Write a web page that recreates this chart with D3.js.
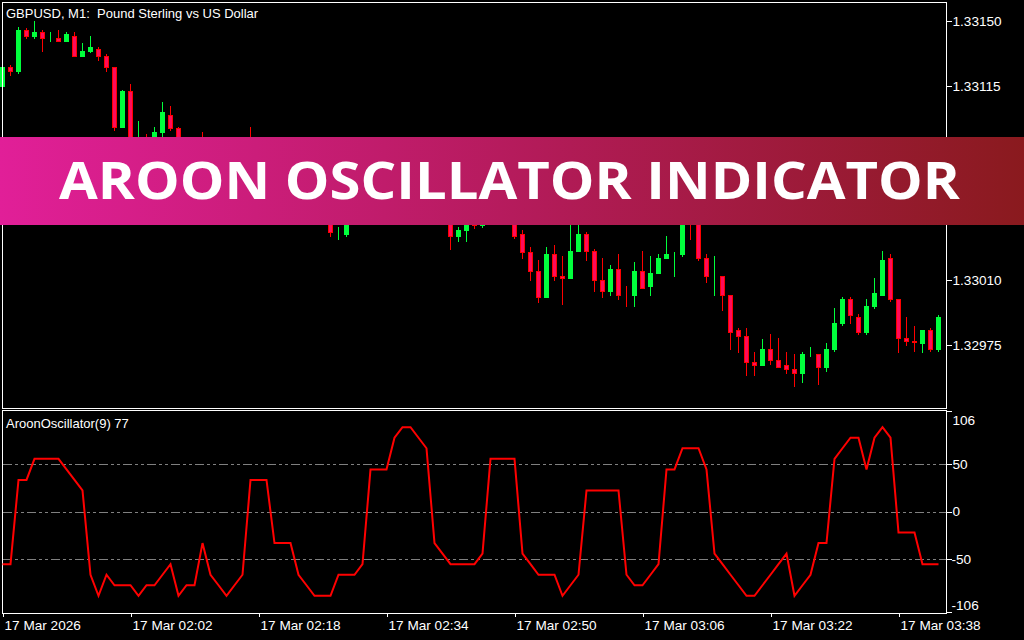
<!DOCTYPE html>
<html><head><meta charset="utf-8">
<script src="https://cdn.jsdelivr.net/npm/d3@7/dist/d3.min.js"></script>
<style>html,body{margin:0;padding:0;background:#000;overflow:hidden}</style>
</head><body><svg id="c" width="1024" height="640"></svg>
<script>
const opens = [1.33115,1.33125,1.33123,1.33145,1.33142,1.33144,1.33141,1.33141,1.33139,1.33142,
1.33131,1.33134,1.33135,1.33131,1.33125,1.33093,1.33112,1.33078,1.33085,1.33076,
1.33090,1.33099,1.33092,1.33078,1.33074,1.33080,1.33070,1.33062,1.33068,1.33058,
1.33066,1.33076,1.33072,1.33078,1.33068,1.33062,1.33066,1.33058,1.33053,1.33057,
1.33050,1.33052,1.33036,1.33035,1.33046,1.33052,1.33048,1.33058,1.33064,1.33060,
1.33070,1.33078,1.33072,1.33066,1.33060,1.33054,1.33057,1.33034,1.33037,1.33044,
1.33040,1.33050,1.33060,1.33054,1.33058,1.33035,1.33025,1.33015,1.33001,1.33024,
1.33012,1.33011,1.33026,1.33035,1.33026,1.33010,1.33004,1.33016,1.33002,1.33002,
1.33015,1.33007,1.33014,1.33022,1.33024,1.33024,1.33048,1.33044,1.33022,1.33012,
1.33012,1.33002,1.32983,1.32980,1.32966,1.32964,1.32973,1.32967,1.32964,1.32962,
1.32960,1.32970,1.32970,1.32963,1.32973,1.32987,1.33000,1.32990,1.32982,1.32996,
1.33002,1.33022,1.33000,1.32979,1.32977,1.32976,1.32983,1.32973];
const highs = [1.33126,1.33126,1.33147,1.33146,1.33150,1.33145,1.33144,1.33145,1.33144,1.33144,
1.33138,1.33142,1.33136,1.33132,1.33125,1.33113,1.33116,1.33096,1.33089,1.33093,
1.33106,1.33104,1.33093,1.33083,1.33084,1.33090,1.33074,1.33072,1.33071,1.33069,
1.33078,1.33093,1.33082,1.33080,1.33071,1.33070,1.33068,1.33061,1.33060,1.33059,
1.33058,1.33056,1.33039,1.33050,1.33055,1.33055,1.33060,1.33066,1.33066,1.33072,
1.33082,1.33080,1.33075,1.33068,1.33062,1.33061,1.33060,1.33039,1.33047,1.33046,
1.33052,1.33063,1.33062,1.33061,1.33060,1.33037,1.33028,1.33021,1.33028,1.33029,
1.33023,1.33045,1.33042,1.33036,1.33027,1.33022,1.33018,1.33024,1.33007,1.33020,
1.33026,1.33023,1.33024,1.33034,1.33025,1.33052,1.33055,1.33050,1.33024,1.33023,
1.33012,1.33002,1.32984,1.32984,1.32971,1.32978,1.32981,1.32979,1.32971,1.32970,
1.32971,1.32974,1.32970,1.32976,1.32995,1.33001,1.33001,1.32992,1.33000,1.33011,
1.33026,1.33024,1.33000,1.32990,1.32985,1.32983,1.32984,1.32991];
const lows = [1.33114,1.33121,1.33122,1.33141,1.33141,1.33134,1.33139,1.33139,1.33139,1.33131,
1.33131,1.33133,1.33129,1.33123,1.33091,1.33093,1.33076,1.33074,1.33072,1.33073,
1.33088,1.33091,1.33072,1.33068,1.33071,1.33066,1.33058,1.33058,1.33054,1.33056,
1.33063,1.33069,1.33068,1.33065,1.33059,1.33060,1.33055,1.33050,1.33049,1.33046,
1.33046,1.33034,1.33032,1.33034,1.33043,1.33045,1.33046,1.33055,1.33057,1.33058,
1.33068,1.33069,1.33063,1.33057,1.33050,1.33051,1.33027,1.33031,1.33031,1.33038,
1.33039,1.33048,1.33052,1.33052,1.33033,1.33022,1.33010,1.32998,1.33001,1.33010,
1.32997,1.33011,1.33026,1.33021,1.33004,1.33001,1.33002,1.33000,1.32996,1.32996,
1.33006,1.33002,1.33014,1.33022,1.33012,1.33023,1.33032,1.33021,1.33009,1.33002,
1.32994,1.32973,1.32971,1.32959,1.32959,1.32964,1.32965,1.32963,1.32960,1.32953,
1.32955,1.32969,1.32954,1.32961,1.32972,1.32986,1.32987,1.32981,1.32981,1.32995,
1.33002,1.32999,1.32971,1.32975,1.32972,1.32971,1.32972,1.32972];
const closes = [1.33125,1.33123,1.33145,1.33142,1.33144,1.33141,1.33141,1.33139,1.33143,1.33131,
1.33134,1.33136,1.33131,1.33125,1.33093,1.33112,1.33080,1.33086,1.33075,1.33090,
1.33101,1.33092,1.33078,1.33074,1.33080,1.33070,1.33062,1.33068,1.33058,1.33066,
1.33074,1.33072,1.33078,1.33068,1.33062,1.33066,1.33058,1.33053,1.33057,1.33050,
1.33055,1.33036,1.33036,1.33046,1.33052,1.33048,1.33058,1.33064,1.33060,1.33070,
1.33078,1.33072,1.33066,1.33060,1.33054,1.33058,1.33034,1.33037,1.33044,1.33040,
1.33050,1.33060,1.33054,1.33058,1.33034,1.33025,1.33015,1.33001,1.33024,1.33012,
1.33011,1.33026,1.33035,1.33026,1.33010,1.33004,1.33016,1.33002,1.330018,1.33015,
1.33006,1.33014,1.33022,1.33024,1.33024,1.33048,1.33044,1.33022,1.33012,1.330122,
1.33002,1.32982,1.32980,1.32966,1.32964,1.32973,1.32967,1.32963,1.32962,1.32960,
1.32970,1.32970,1.32963,1.32973,1.32987,1.33000,1.32991,1.32982,1.32996,1.33003,
1.33021,1.33000,1.32979,1.32977,1.329768,1.32983,1.32973,1.32990];
const aroon = [-55.6,-55.6,33.3,33.3,55.6,55.6,55.6,55.6,44.4,33.3,
22.2,-66.7,-88.9,-66.7,-77.8,-77.8,-77.8,-88.9,-77.8,-77.8,
-66.7,-55.6,-88.9,-77.8,-77.8,-33.3,-66.7,-77.8,-88.9,-77.8,
-66.7,33.3,33.3,33.3,-33.3,-33.3,-33.3,-66.7,-77.8,-88.9,
-88.9,-88.9,-66.7,-66.7,-66.7,-55.6,44.4,44.4,44.4,77.8,
88.9,88.9,77.8,66.7,-33.3,-44.4,-55.6,-55.6,-55.6,-55.6,
-44.4,55.6,55.6,55.6,55.6,-44.4,-55.6,-66.7,-66.7,-66.7,
-88.9,-77.8,-66.7,22.2,22.2,22.2,22.2,22.2,-66.7,-77.8,
-77.8,-66.7,-55.6,44.4,44.4,66.7,66.7,66.7,44.4,-44.4,
-55.6,-66.7,-77.8,-88.9,-88.9,-77.8,-66.7,-55.6,-44.4,-88.9,
-77.8,-66.7,-33.3,-33.3,55.6,66.7,77.8,77.8,44.4,77.8,
88.9,77.8,-22.2,-22.2,-22.2,-55.6,-55.6,-55.6];
const timeTickBars = [0,16,32,48,64,80,96,112];
const timeLabels = ["17 Mar 2026","17 Mar 02:02","17 Mar 02:18","17 Mar 02:34","17 Mar 02:50","17 Mar 03:06","17 Mar 03:22","17 Mar 03:38"];
const priceTicks = [1.33150,1.33115,1.33080,1.33045,1.33010,1.32975];
const oscTicks = [106,50,0,-50,-106];
const oscLevels = [50,0,-50];
const chartTitle = "GBPUSD, M1:  Pound Sterling vs US Dollar";
const oscTitle = "AroonOscillator(9) 77";
const bannerText = "AROON OSCILLATOR INDICATOR";

const FONT = "'Liberation Sans', Arial, sans-serif";
const bull = "#00FF3C", bearFill = "#FF0A5A", bearLine = "#FF0000";
const svg = d3.select("#c").style("background","#000").attr("shape-rendering","crispEdges");
svg.append("rect").attr("width",1024).attr("height",640).attr("fill","#000");

const n = opens.length;
const x = d3.scaleLinear().domain([0, n-1]).range([2.5, 2.5 + 8*(n-1)]);
const yP = d3.scaleLinear().domain([1.33150, 1.32975]).range([21, 345]);
const yO = d3.scaleLinear().domain([106, -106]).range([411, 612]);

// candles
const main = svg.append("g");
const idx = d3.range(n);
main.selectAll("line.wick").data(idx).join("line")
  .attr("x1", i => x(i)).attr("x2", i => x(i))
  .attr("y1", i => Math.round(yP(highs[i]))).attr("y2", i => Math.round(yP(lows[i]))+1)
  .attr("stroke", i => closes[i] >= opens[i] ? bull : bearLine).attr("stroke-width",1);
main.selectAll("rect.body").data(idx).join("rect")
  .attr("x", i => x(i) - 2)
  .attr("y", i => Math.round(yP(Math.max(opens[i], closes[i]))) + 0.5)
  .attr("width", 4)
  .attr("height", i => Math.max(0, Math.round(yP(Math.min(opens[i], closes[i]))) - Math.round(yP(Math.max(opens[i], closes[i])))))
  .attr("fill", i => closes[i] >= opens[i] ? bull : bearFill)
  .attr("stroke", i => closes[i] >= opens[i] ? bull : bearLine).attr("stroke-width",1);

// frames
svg.append("rect").attr("x",2.5).attr("y",2.5).attr("width",944).attr("height",406).attr("fill","none").attr("stroke","#fff");
svg.append("rect").attr("x",2.5).attr("y",410.5).attr("width",944).attr("height",203).attr("fill","none").attr("stroke","#fff");

// price axis
const pAxis = d3.axisRight(yP).tickValues(priceTicks).tickFormat(d3.format(".5f")).tickSize(5).tickPadding(1);
const pg = svg.append("g").attr("transform","translate(946.5,0)").call(pAxis);
pg.select(".domain").remove();
pg.selectAll("line").attr("stroke","#fff");
pg.selectAll("text").attr("fill","#fff").style("font-family",FONT).style("font-size","13.6px");

// oscillator levels
svg.append("g").selectAll("line").data(oscLevels).join("line")
  .attr("x1",3).attr("x2",946).attr("y1",d=>Math.round(yO(d))+0.5).attr("y2",d=>Math.round(yO(d))+0.5)
  .attr("stroke","#808080").attr("stroke-dasharray","9,3,3,3,3,3");

// oscillator line
const lineGen = d3.line().x((d,i)=>x(i)).y(d=>yO(d));
svg.append("path").datum(aroon).attr("d",lineGen).attr("fill","none")
  .attr("stroke","#FF0000").attr("stroke-width",2).attr("shape-rendering","auto");

// oscillator axis
const oAxis = d3.axisRight(yO).tickValues(oscTicks).tickSize(5).tickPadding(1).tickFormat(d=>String(d));
const og = svg.append("g").attr("transform","translate(946.5,0)").call(oAxis);
og.select(".domain").remove();
og.selectAll("line").attr("stroke","#fff");
og.selectAll("text").attr("fill","#fff").style("font-family",FONT).style("font-size","13.6px")
  .attr("x", d => d < 0 ? 5 : 6)
  .attr("dy", d => d === 106 ? "1.0em" : (d === -106 ? "-0.2em" : "0.32em"));

// time axis
const tAxis = d3.axisBottom(x).tickValues(timeTickBars).tickSize(4).tickPadding(3).tickFormat((d,i)=>timeLabels[i]);
const tg = svg.append("g").attr("transform","translate(0,613)").call(tAxis);
tg.select(".domain").remove();
tg.selectAll("line").attr("stroke","#fff");
tg.selectAll("text").attr("fill","#fff").style("font-family",FONT).style("font-size","13.6px")
  .attr("text-anchor","start").attr("x", 1.5).attr("dy","0.71em");

// titles
svg.append("text").attr("x",6).attr("y",18).attr("fill","#fff").style("white-space","pre").attr("xml:space","preserve")
  .style("font-family",FONT).style("font-size","13px").text(chartTitle);
svg.append("text").attr("x",6).attr("y",428).attr("fill","#fff").style("font-family",FONT).style("font-size","13px").text(oscTitle);

// banner
const defs = svg.append("defs");
const grad = defs.append("linearGradient").attr("id","bg").attr("x1","0%").attr("x2","100%");
grad.append("stop").attr("offset","0%").attr("stop-color","#E11F98");
grad.append("stop").attr("offset","50%").attr("stop-color","#B51B5C");
grad.append("stop").attr("offset","100%").attr("stop-color","#8A1A1E");
svg.append("rect").attr("x",0).attr("y",137).attr("width",1024).attr("height",88).attr("fill","url(#bg)");
svg.append("text").attr("x",59).attr("y",199).attr("fill","#fff")
  .attr("textLength",901).attr("lengthAdjust","spacingAndGlyphs")
  .attr("shape-rendering","auto")
  .style("font-family","'Open Sans', 'Noto Sans', sans-serif").style("font-weight","700").style("font-size","52px")
  .text(bannerText);
</script></body></html>
